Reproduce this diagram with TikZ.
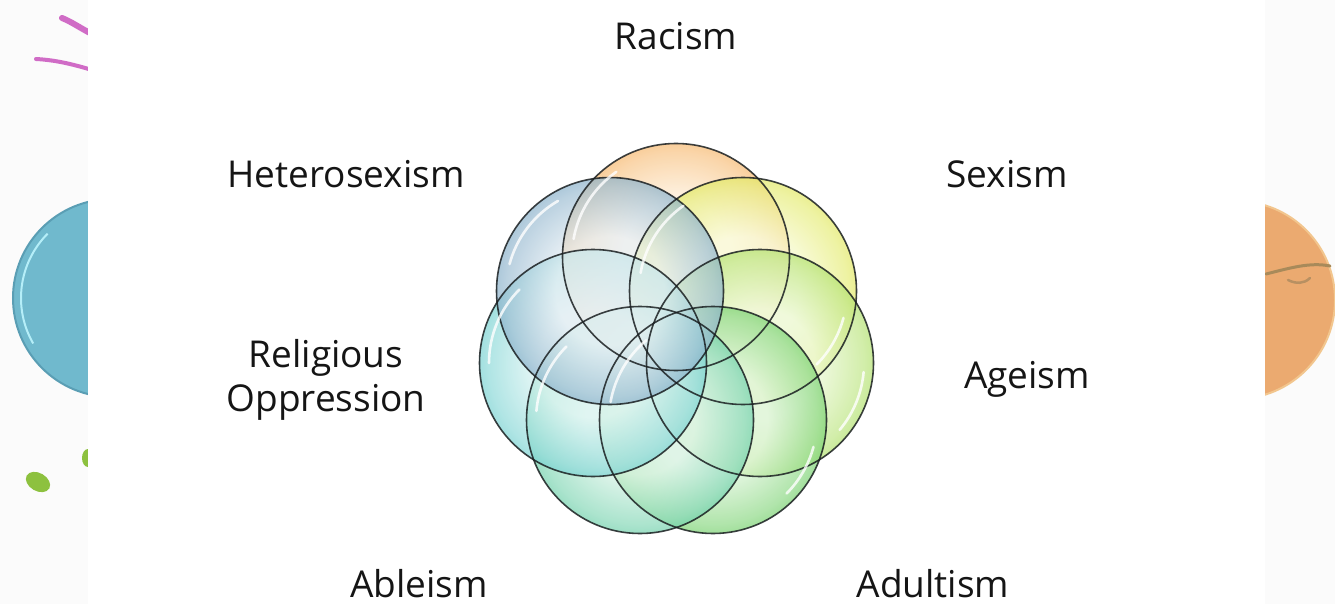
\documentclass[tikz,border=0pt]{standalone}
\usepackage{fontspec}
\setmainfont{Open Sans}
\usetikzlibrary{calc}

% translucent bubble: pale centre, coloured rim (the circle edge sits at about 35bp)
\pgfdeclareradialshading[bubin,bubout]{bubble}{\pgfpoint{0bp}{0bp}}{%
  color(0bp)=(bubin); color(12bp)=(bubin); color(23bp)=(bubout!45!bubin);
  color(30bp)=(bubout!85!bubin); color(34bp)=(bubout); color(50bp)=(bubout)}

\definecolor{edgeline}{HTML}{1A1F21}
\definecolor{txt}{HTML}{151515}
\definecolor{discblue}{HTML}{70B9CD}
\definecolor{discblueedge}{HTML}{5A9EB4}
\definecolor{discbluering}{HTML}{B5EEF8}
\definecolor{discorange}{HTML}{EBAA70}
\definecolor{discorangeedge}{HTML}{F2C68E}
\definecolor{streakA}{HTML}{A88A5A}
\definecolor{streakB}{HTML}{B89062}
\definecolor{pinkstroke}{HTML}{D06CC6}
\definecolor{greenblob}{HTML}{8DC13F}
\definecolor{paleOrange}{HTML}{FFF1DE}\definecolor{rimOrange}{HTML}{F0901E}
\definecolor{paleYellow}{HTML}{F9FCD8}\definecolor{rimYellow}{HTML}{D2DC0E}
\definecolor{paleLime}{HTML}{ECF9D8}\definecolor{rimLime}{HTML}{88D020}
\definecolor{paleGreen}{HTML}{DEF5DA}\definecolor{rimGreen}{HTML}{2EB822}
\definecolor{paleMint}{HTML}{DCF4E8}\definecolor{rimMint}{HTML}{22B880}
\definecolor{paleTeal}{HTML}{DEF5F4}\definecolor{rimTeal}{HTML}{30BABA}
\definecolor{paleBlue}{HTML}{E6EEF4}\definecolor{rimBlue}{HTML}{4684AC}

\begin{document}
\begin{tikzpicture}[x=1pt,y=-1pt,
  lbl/.style={font=\fontsize{37}{44}\selectfont, text=txt, align=center, anchor=base, inner sep=0pt},
  bub/.style 2 args={circle, minimum size=227pt, inner sep=0pt,
    /utils/exec={\colorlet{bubin}{#1}\colorlet{bubout}{#2}},
    shading=bubble, fill opacity=0.7},
  rim/.style={draw=edgeline, line width=1.6pt, draw opacity=0.85},
  gloss/.style={draw=white, line width=2.6pt, line cap=round, draw opacity=0.8}]

\useasboundingbox (0,0) rectangle (1335,604);

% backdrop with the neighbouring slide artwork
\fill[white!97!gray] (0,0) rectangle (1335,604);
\node[circle, minimum size=198pt, inner sep=0pt, fill=discblue, draw=discblueedge, line width=2pt] (leftdisc) at (112,298) {};
\draw[discbluering, line width=2pt] (leftdisc.center) ++(150:91) arc[start angle=150, end angle=225, radius=91];
\node[circle, minimum size=198pt, inner sep=0pt, fill=discorange, draw=discorangeedge, line width=2pt] (rightdisc) at (1236,300) {};
\draw[streakA, line width=3pt, line cap=round] (1266,274) .. controls (1290,268) and (1310,262) .. (1330,266);
\draw[streakB, line width=2.5pt, line cap=round] (1288,280) .. controls (1296,284) and (1304,284) .. (1310,278);
\draw[pinkstroke, line width=6pt, line cap=round] (62,18) .. controls (72,22) and (80,28) .. (92,34);
\draw[pinkstroke, line width=4pt, line cap=round] (36,59) .. controls (55,60) and (72,64) .. (92,70);
\fill[greenblob, rotate around={-30:(38,482)}] (38,482) ellipse[x radius=13, y radius=9];
\fill[greenblob] (88,458) ellipse[x radius=6, y radius=9];

% slide area
\fill[white] (88,0) rectangle (1265,604);

% the seven overlapping circles: translucent fills first
\node[bub={paleOrange}{rimOrange}] (racism) at (676,257) {};
\node[bub={paleYellow}{rimYellow}] (sexism) at (743,291) {};
\node[bub={paleLime}{rimLime}] (ageism) at (760,363) {};
\node[bub={paleGreen}{rimGreen}] (adultism) at (713,420) {};
\node[bub={paleMint}{rimMint}] (ableism) at (640,420) {};
\node[bub={paleTeal}{rimTeal}] (religion) at (593,363) {};
\node[bub={paleBlue}{rimBlue}] (hetero) at (610,291) {};

% outlines and glossy highlights on top
\foreach \c in {racism,sexism,ageism,adultism,ableism,religion,hetero}
  \draw[rim] (\c.center) circle[radius=113.5];

\draw[gloss] (racism.center) ++(190:104) arc[start angle=190, end angle=235, radius=104];
\draw[gloss] (sexism.center) ++(190:104) arc[start angle=190, end angle=235, radius=104];
\draw[gloss] (sexism.center) ++(15:104) arc[start angle=15, end angle=45, radius=104];
\draw[gloss] (ageism.center) ++(5:104) arc[start angle=5, end angle=40, radius=104];
\draw[gloss] (adultism.center) ++(190:104) arc[start angle=190, end angle=230, radius=104];
\draw[gloss] (adultism.center) ++(15:104) arc[start angle=15, end angle=45, radius=104];
\draw[gloss] (ableism.center) ++(185:104) arc[start angle=185, end angle=225, radius=104];
\draw[gloss] (religion.center) ++(180:104) arc[start angle=180, end angle=225, radius=104];
\draw[gloss] (hetero.center) ++(195:104) arc[start angle=195, end angle=240, radius=104];

% labels
\node[lbl] (lracism) at (676,50) {Racism};
\node[lbl] (lsexism) at (1007,188) {Sexism};
\node[lbl] (lageism) at (1027,388) {Ageism};
\node[lbl] (ladult) at (933,597) {Adultism};
\node[lbl] (lable) at (419,597) {Ableism};
\node[lbl] (lrelig1) at (326,367) {Religious};
\node[lbl] (lrelig2) at (326,411) {Oppression};
\node[lbl] (lhetero) at (346,188) {Heterosexism};
\end{tikzpicture}
\end{document}
